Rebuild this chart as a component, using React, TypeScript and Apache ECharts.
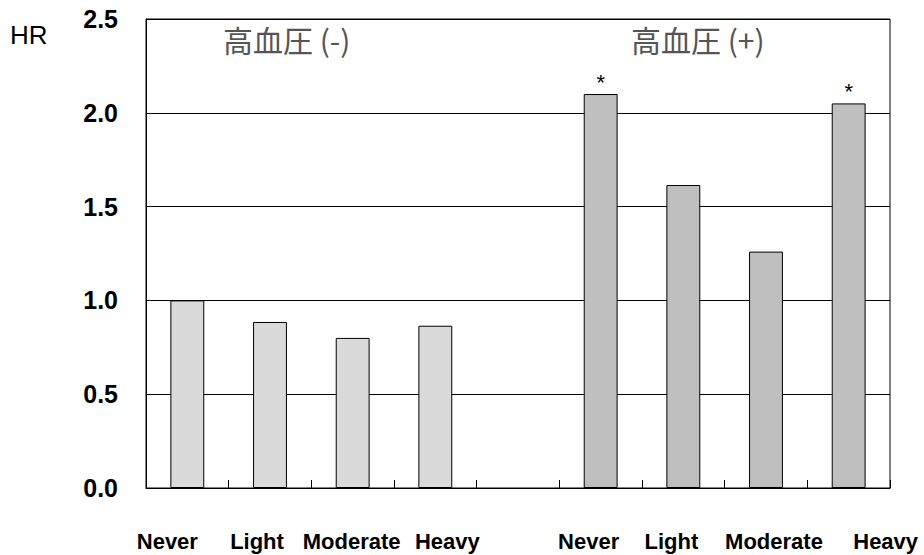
import React, { useEffect, useRef } from "react";
import * as echarts from "echarts";

const categories = ["Never", "Light", "Moderate", "Heavy", "", "Never", "Light", "Moderate", "Heavy"];
const hrNegative = [1.0, 0.885, 0.8, 0.865];
const hrPositive = [2.1, 1.615, 1.26, 2.05];
const sigPositive = [true, false, false, true];
const yTicks = [0, 0.5, 1.0, 1.5, 2.0, 2.5];
const groupTitles = ["高血圧 (-)", "高血圧 (+)"];
const yAxisName = "HR";

// horizontal nudges (px) of each category label, as in the original figure
const labelNudge = [-20, -13, -1, 12, 0, -12, -12, 8, 37];

const FONT = "'Liberation Sans', Arial, sans-serif";
const CJK = "'Noto Sans CJK JP', sans-serif";

export default function App() {
  const ref = useRef<HTMLDivElement>(null);
  useEffect(() => {
    if (!ref.current) return;
    const chart = echarts.init(ref.current, undefined, { renderer: "svg" });
    const data: any[] = [];
    hrNegative.forEach((v) => {
      data.push({ value: v, itemStyle: { color: "#dadada" } });
    });
    data.push({ value: null });
    hrPositive.forEach((v, i) => {
      data.push({
        value: v,
        itemStyle: { color: "#bfbfbf" },
        label: sigPositive[i]
          ? { show: true, position: "top", formatter: "*", fontSize: 22, color: "#000", distance: 1, fontFamily: FONT }
          : { show: false },
      });
    });
    const rich: Record<string, any> = {};
    labelNudge.forEach((n, i) => {
      rich["c" + i] = {
        fontSize: 22,
        fontWeight: "bold",
        color: "#000",
        fontFamily: FONT,
        padding: n >= 0 ? [0, 0, 0, 2 * n] : [0, -2 * n, 0, 0],
      };
    });
    chart.setOption({
      animation: false,
      backgroundColor: "#fff",
      grid: { left: 146, right: 34, top: 19, bottom: 67, show: true, borderColor: "#000", borderWidth: 1, containLabel: false },
      graphic: [
        { type: "text", left: 10, top: 22, style: { text: yAxisName, fontSize: 26, fontFamily: FONT, fill: "#000" } },
        { type: "text", left: 223, top: 24, style: { text: groupTitles[0], fontSize: 30, fontFamily: CJK, fill: "#555" } },
        { type: "text", left: 631, top: 24, style: { text: groupTitles[1], fontSize: 30, fontFamily: CJK, fill: "#555" } },
      ],
      xAxis: {
        type: "category",
        data: categories,
        axisLine: { show: true, lineStyle: { color: "#000", width: 1 } },
        axisTick: { show: true, inside: true, length: 8, alignWithLabel: false, lineStyle: { color: "#000" } },
        axisLabel: {
          margin: 42,
          interval: 0,
          formatter: (v: string, i: number) => (v ? `{c${i}|${v}}` : ""),
          rich,
        },
        splitLine: { show: false },
      },
      yAxis: {
        type: "value",
        min: yTicks[0],
        max: yTicks[yTicks.length - 1],
        interval: 0.5,
        axisLine: { show: true, lineStyle: { color: "#000" } },
        axisTick: { show: false },
        axisLabel: {
          margin: 28,
          fontSize: 25,
          fontWeight: "bold",
          color: "#000",
          fontFamily: FONT,
          formatter: (v: number) => v.toFixed(1),
        },
        splitLine: { show: true, lineStyle: { color: "#000", width: 1 } },
      },
      series: [
        {
          type: "bar",
          data,
          barWidth: "41%",
          itemStyle: { borderColor: "#000", borderWidth: 1 },
        },
      ],
    });
    return () => chart.dispose();
  }, []);
  return <div ref={ref} style={{ position: "fixed", left: 0, top: 0, width: 924, height: 555 }} />;
}
